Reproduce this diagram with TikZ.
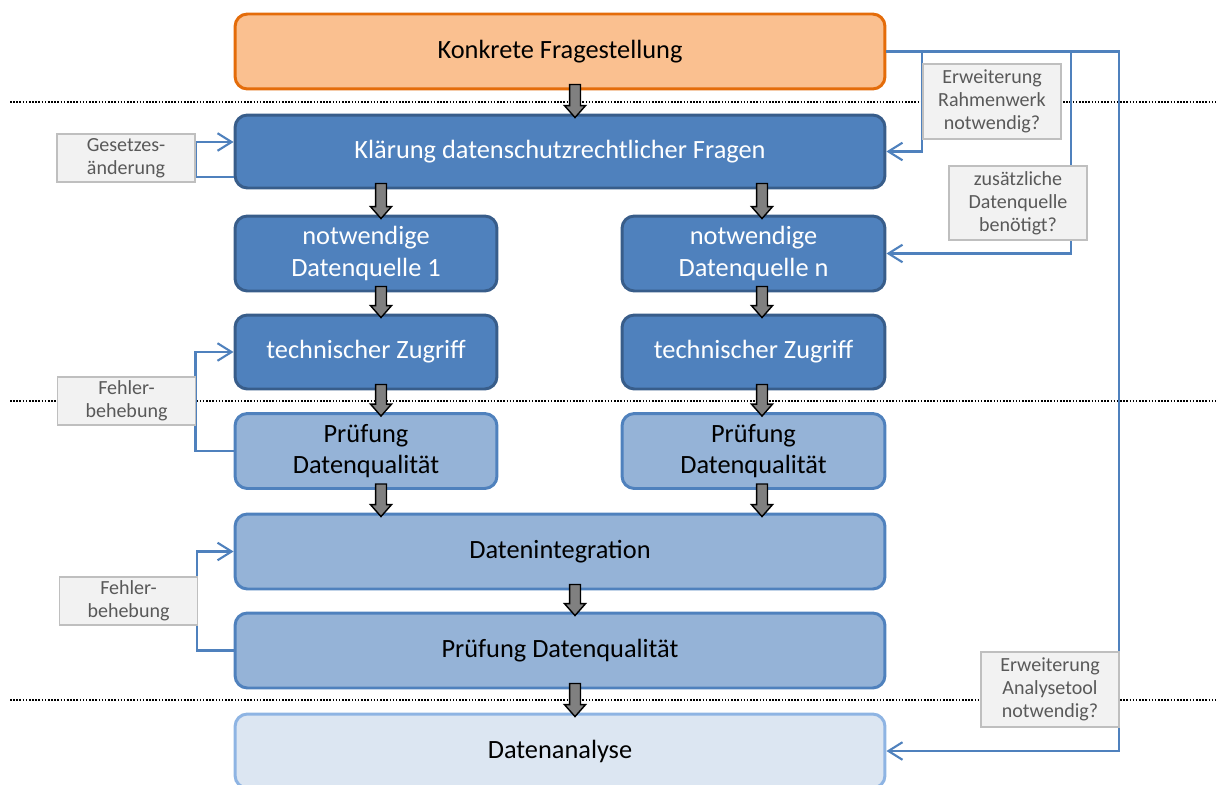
\documentclass[tikz,border=0pt]{standalone}
\usepackage{fontspec}
\setmainfont{Carlito}
\usetikzlibrary{arrows.meta,calc}

\definecolor{boxblue}{HTML}{4F81BD}
\definecolor{boxblueline}{HTML}{385D8A}
\definecolor{lightblue}{HTML}{95B3D7}
\definecolor{paleblue}{HTML}{DCE6F2}
\definecolor{palebluelline}{HTML}{8EB4E3}
\definecolor{orangefill}{HTML}{FAC090}
\definecolor{orangeline}{HTML}{E46C0A}
\definecolor{notegray}{HTML}{F2F2F2}
\definecolor{noteline}{HTML}{BFBFBF}
\definecolor{notetext}{HTML}{595959}

% gray block arrow, x taken from the first point
\newcommand{\grayarrow}[2]{%
  \draw[blockarr] let \p1=(#1), \p2=(#2) in
    (\x1-3.1pt,\y1+3.4pt) -- (\x1-3.1pt,\y2+4.5pt) -- (\x1-6pt,\y2+4.5pt)
    -- (\x1,\y2-2.3pt) -- (\x1+6pt,\y2+4.5pt) -- (\x1+3.1pt,\y2+4.5pt)
    -- (\x1+3.1pt,\y1+3.4pt) -- cycle;}

\begin{document}
\begin{tikzpicture}[
x=0.02cm, y=-0.02cm,
stepbox/.style={rounded corners=7pt, line width=1.7pt, minimum height=1.5cm, inner sep=0pt, align=center, font=\fontsize{15}{18}\selectfont},
darkbox/.style={stepbox, fill=boxblue, draw=boxblueline, text=white},
lightbox/.style={stepbox, fill=lightblue, draw=boxblue},
notebox/.style={draw=noteline, fill=notegray, text=notetext, line width=0.8pt, minimum width=2.76cm, inner sep=2pt, align=center, font=\fontsize{11.4}{13}\selectfont},
fb/.style={draw=boxblue, line width=1.2pt},
fbarrow/.style={fb, -{Straight Barb[length=8pt,width=10pt]}},
blockarr/.style={draw=black, fill=gray, line width=0.8pt},
sep/.style={dash pattern=on 0.9pt off 0.9pt, line width=1pt}
]
    \useasboundingbox (0,0) rectangle (1216,784);

    \draw [sep] (10,102) -- (1216,102);
    \draw [sep] (10,401) -- (1216,401);
    \draw [sep] (10,700) -- (1216,700);

    \node [stepbox,fill=orangefill,draw=orangeline,minimum width=13cm] (top) at (560,51.5) {Konkrete Fragestellung};
    \node [darkbox,minimum width=13cm,minimum height=1.46cm] (kla) at (560,151.5) {Klärung datenschutzrechtlicher Fragen};
    \node [darkbox,minimum width=5.24cm] (dq1) at (366,253.5) {notwendige\\Datenquelle 1};
    \node [darkbox,minimum width=5.26cm] (dqn) at (753.5,253.5) {notwendige\\Datenquelle n};
    \node [darkbox,minimum width=5.24cm,minimum height=1.48cm] (tz1) at (366,352) {technischer Zugriff};
    \node [darkbox,minimum width=5.26cm,minimum height=1.48cm] (tzn) at (753.5,352) {technischer Zugriff};
    \node [lightbox,minimum width=5.24cm] (pq1) at (366,451) {Prüfung\\Datenqualität};
    \node [lightbox,minimum width=5.26cm] (pqn) at (753.5,451) {Prüfung\\Datenqualität};
    \node [lightbox,minimum width=13cm] (di) at (560,551.5) {Datenintegration};
    \node [lightbox,minimum width=13cm] (pq) at (560,650.5) {Prüfung Datenqualität};
    \node [stepbox,fill=paleblue,draw=palebluelline,minimum width=13cm,minimum height=1.48cm] (da) at (560,751) {Datenanalyse};

    \grayarrow{$(top.south)+(15,0)$}{kla.north}
    \grayarrow{$(kla.south -| dq1.north)+(15,0)$}{dq1.north}
    \grayarrow{$(kla.south -| dqn.north)+(8.5,0)$}{dqn.north}
    \grayarrow{$(dq1.south)+(15,0)$}{tz1.north}
    \grayarrow{$(dqn.south)+(8.5,0)$}{tzn.north}
    \grayarrow{$(tz1.south)+(15,0)$}{pq1.north}
    \grayarrow{$(tzn.south)+(8.5,0)$}{pqn.north}
    \grayarrow{$(pq1.south)+(15,0)$}{di.north}
    \grayarrow{$(pqn.south)+(8.5,0)$}{di.north}
    \grayarrow{$(di.south)+(15,0)$}{pq.north}
    \grayarrow{$(pq.south)+(15,0)$}{da.north}

    % feedback loops left
    \draw [fbarrow] ($(kla.west)+(0,25.5)$) -- ++(-38,0) |- ($(kla.west)+(0,-9.5)$);
    \draw [fbarrow] (pq1.west) -- ++(-38,0) |- (tz1.west);
    \draw [fbarrow] (pq.west) -- ++(-37,0) |- (di.west);

    % feedback loops right
    \coordinate (rc) at (1119,751);
    \coordinate (b1) at (922,52);
    \coordinate (b2) at (1071,52);
    \draw [fbarrow] (top.east) -| (rc) -- (da.east);
    \draw [fbarrow] (b1) |- (kla.east);
    \draw [fbarrow] (b2) |- (dqn.east);

    \node [notebox,minimum height=0.96cm] (ges) at (126,158) {Gesetzes-\\änderung};
    \node [notebox,minimum height=0.96cm] (feh1) at (126.5,401) {Fehler-\\behebung};
    \node [notebox,minimum height=0.96cm] (feh2) at (128.5,601) {Fehler-\\behebung};
    \node [notebox,minimum height=1.5cm] (erw1) at (992,101.5) {Erweiterung\\Rahmenwerk\\notwendig?};
    \node [notebox,minimum height=1.48cm] (zus) at (1018,203) {zusätzliche\\Datenquelle\\benötigt?};
    \node [notebox,minimum height=1.5cm] (erw2) at (1050,689.5) {Erweiterung\\Analysetool\\notwendig?};
\end{tikzpicture}
\end{document}
